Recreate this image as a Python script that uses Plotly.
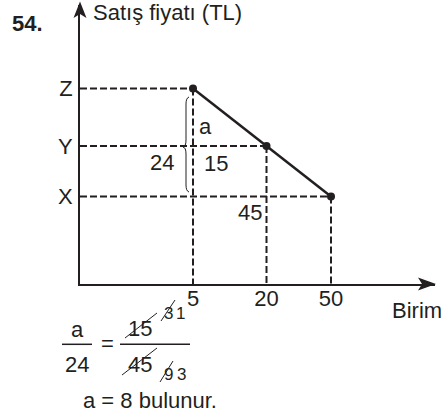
import plotly.graph_objects as go

# ---- data ----
units = [5, 20, 50]                 # Birim (x values at the three points)
price_labels = ["Z", "Y", "X"]      # Satış fiyatı levels
# schematic placement of the three levels on the drawing (graph units)
x_pos = [113, 186.5, 251]
y_pos = [195.5, 138, 87.5]

INK = "#231f20"
FONT = "Liberation Sans, Arial, sans-serif"

W, H = 444, 415
L, R, T, B = 80, 9, 5, 131
XR = W - L - R   # 355
YR = H - T - B   # 279


def px_(px):
    return (px - L) / XR


def py_(py):
    return ((H - B) - py) / YR


fig = go.Figure()

# dashed guide lines
for xv, yv in zip(x_pos, y_pos):
    fig.add_trace(go.Scatter(x=[0, xv], y=[yv, yv], mode="lines",
                             line=dict(color=INK, width=2, dash="7px,3px"),
                             hoverinfo="skip", showlegend=False))
    fig.add_trace(go.Scatter(x=[xv, xv], y=[yv, 0], mode="lines",
                             line=dict(color=INK, width=2, dash="7px,3px"),
                             hoverinfo="skip", showlegend=False))

# main price line
fig.add_trace(go.Scatter(x=x_pos, y=y_pos, mode="lines+markers",
                         line=dict(color=INK, width=2.5),
                         marker=dict(color=INK, size=8),
                         customdata=units, showlegend=False, cliponaxis=False))


def P(px, py):
    return f"{px_(px)} {py_(py)}"


shapes = []
# arrowheads
shapes.append(dict(type="path", xref="paper", yref="paper",
                   path=f"M {P(436, 284)} L {P(418, 277.5)} L {P(422, 284)} L {P(418, 290.5)} Z",
                   fillcolor=INK, line=dict(width=0)))
shapes.append(dict(type="path", xref="paper", yref="paper",
                   path=f"M {P(80, 1.5)} L {P(73.5, 18)} L {P(80, 14)} L {P(86.5, 18)} Z",
                   fillcolor=INK, line=dict(width=0)))
# brace
bx, cx = 186, 183
shapes.append(dict(type="path", xref="paper", yref="paper",
                   path=(f"M {P(189, 97)} Q {P(bx, 98)} {P(bx, 104)} "
                         f"L {P(bx, 140)} Q {P(bx, 146.5)} {P(cx, 147)} "
                         f"Q {P(bx, 147.5)} {P(bx, 154)} "
                         f"L {P(bx, 185)} Q {P(bx, 191)} {P(189, 192)}"),
                   line=dict(color=INK, width=1)))
# fraction bars
for x0, x1 in [(62, 92), (120, 190)]:
    shapes.append(dict(type="line", xref="paper", yref="paper", x0=px_(x0), x1=px_(x1),
                       y0=py_(344.3), y1=py_(344.3), line=dict(color=INK, width=1.5)))
# cancellation slashes
for (x0, y0, x1, y1) in [(125, 338, 157, 313), (161, 321, 175, 300),
                         (122, 375, 157, 348), (160, 382, 173, 361)]:
    shapes.append(dict(type="line", xref="paper", yref="paper", x0=px_(x0), y0=py_(y0),
                       x1=px_(x1), y1=py_(y1), line=dict(color=INK, width=1)))

ann = []


def txt(s, px, py, size=22, xanchor="center", bold=False):
    ann.append(dict(text=f"<b>{s}</b>" if bold else s, x=px_(px), y=py_(py),
                    xref="paper", yref="paper", showarrow=False, xanchor=xanchor,
                    yanchor="middle", font=dict(family=FONT, size=size, color=INK)))


txt("54.", 27, 23, bold=True)
txt("Satış fiyatı (TL)", 91, 12.5, xanchor="left")
txt("a", 205, 126)
txt("24", 162, 162)
txt("15", 216, 164)
txt("45", 250, 213)
txt("Birim", 416.5, 310)
# worked solution
txt("a", 77, 329)
txt("24", 77, 364)
txt("=", 107, 343)
txt("15", 140, 328)
txt("45", 140, 364)
txt("3", 168, 313, size=17)
txt("1", 180, 313, size=17)
txt("9", 168, 374, size=17)
txt("3", 181, 374, size=17)
txt("a = 8 bulunur.", 81, 400, xanchor="left")

fig.update_layout(
    width=W, height=H, margin=dict(l=L, r=R, t=T, b=B),
    paper_bgcolor="white", plot_bgcolor="white",
    shapes=shapes, annotations=ann,
    xaxis=dict(range=[0, XR], showgrid=False, zeroline=False, showline=True,
               linecolor=INK, linewidth=2, tickmode="array", tickvals=x_pos,
               ticktext=[str(u) for u in units], ticks="", ticklabelstandoff=-6,
               tickfont=dict(family=FONT, size=22, color=INK), fixedrange=True),
    yaxis=dict(range=[0, YR], showgrid=False, zeroline=False, showline=True,
               linecolor=INK, linewidth=2, tickmode="array", tickvals=y_pos,
               ticktext=price_labels, ticks="outside", ticklen=1,
               tickcolor="rgba(0,0,0,0)",
               tickfont=dict(family=FONT, size=22, color=INK), fixedrange=True),
    showlegend=False,
)

fig.write_html("out.html", config={"displayModeBar": False},
               post_script="document.documentElement.style.margin='0';"
                           "document.body.style.margin='0';document.body.style.padding='0';"
                           "document.body.style.overflow='hidden';")
